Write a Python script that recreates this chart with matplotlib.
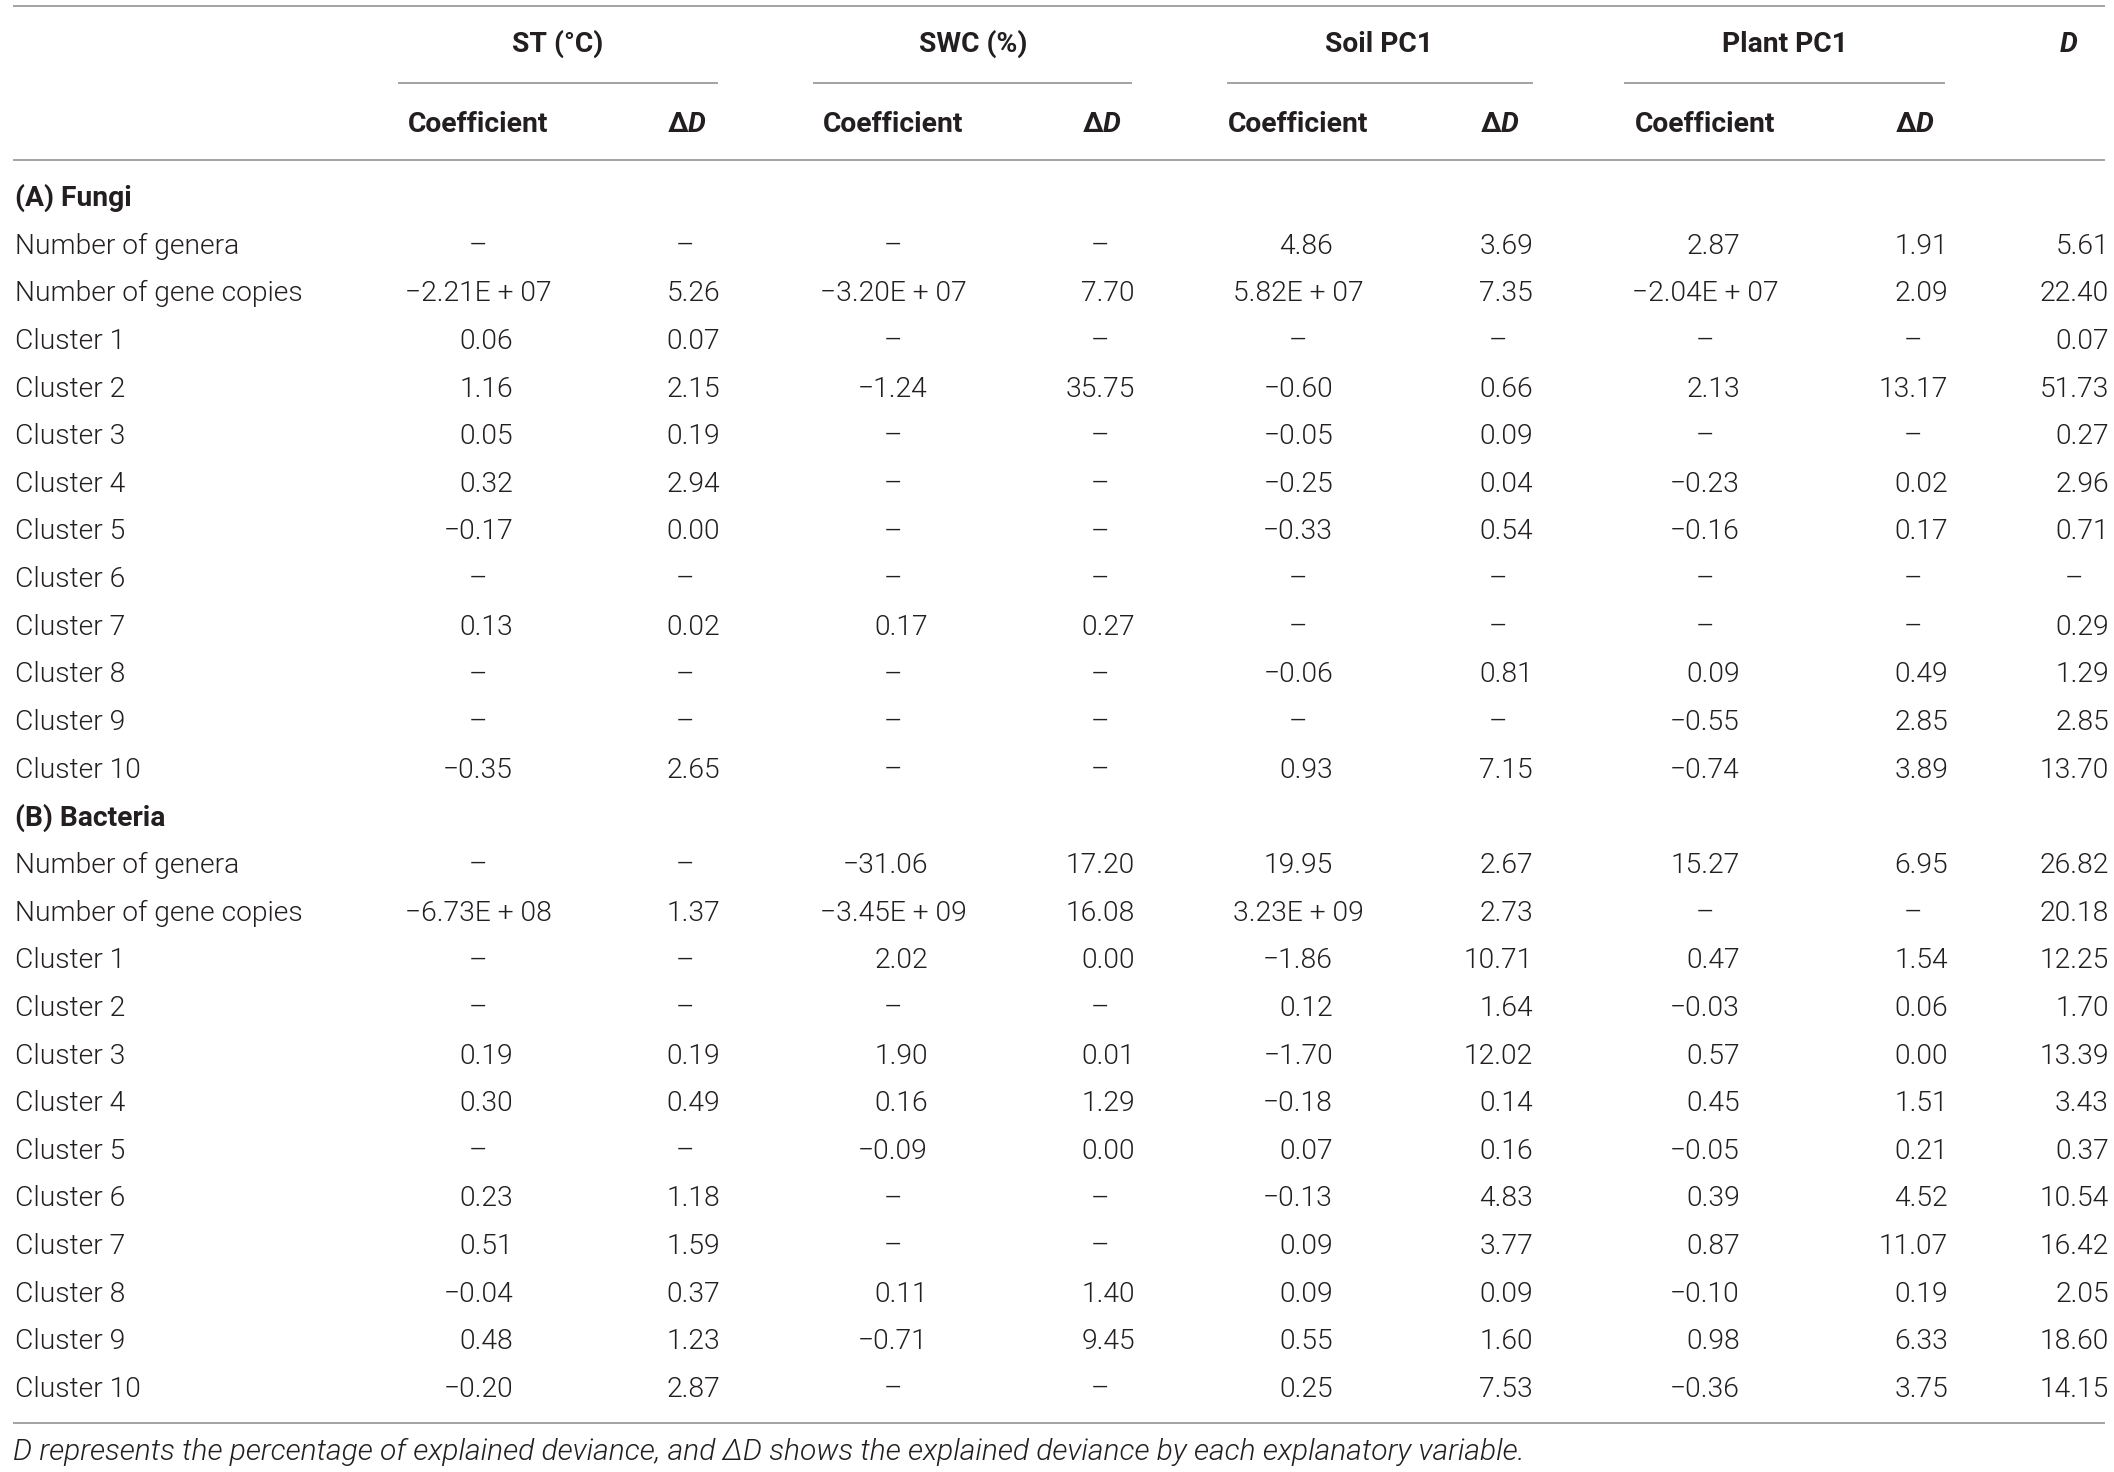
import matplotlib
matplotlib.use("Agg")
import matplotlib.pyplot as plt

# row labels (same for both groups)
row_labels = ["Number of genera", "Number of gene copies"] + ["Cluster %d" % i for i in range(1, 11)]

# (A) Fungi, one list per column, None = not selected
fungi_st_coef = [None, -2.21e7, 0.06, 1.16, 0.05, 0.32, -0.17, None, 0.13, None, None, -0.35]
fungi_st_dd = [None, 5.26, 0.07, 2.15, 0.19, 2.94, 0.00, None, 0.02, None, None, 2.65]
fungi_swc_coef = [None, -3.20e7, None, -1.24, None, None, None, None, 0.17, None, None, None]
fungi_swc_dd = [None, 7.70, None, 35.75, None, None, None, None, 0.27, None, None, None]
fungi_soil_coef = [4.86, 5.82e7, None, -0.60, -0.05, -0.25, -0.33, None, None, -0.06, None, 0.93]
fungi_soil_dd = [3.69, 7.35, None, 0.66, 0.09, 0.04, 0.54, None, None, 0.81, None, 7.15]
fungi_plant_coef = [2.87, -2.04e7, None, 2.13, None, -0.23, -0.16, None, None, 0.09, -0.55, -0.74]
fungi_plant_dd = [1.91, 2.09, None, 13.17, None, 0.02, 0.17, None, None, 0.49, 2.85, 3.89]
fungi_d = [5.61, 22.40, 0.07, 51.73, 0.27, 2.96, 0.71, None, 0.29, 1.29, 2.85, 13.70]

# (B) Bacteria
bact_st_coef = [None, -6.73e8, None, None, 0.19, 0.30, None, 0.23, 0.51, -0.04, 0.48, -0.20]
bact_st_dd = [None, 1.37, None, None, 0.19, 0.49, None, 1.18, 1.59, 0.37, 1.23, 2.87]
bact_swc_coef = [-31.06, -3.45e9, 2.02, None, 1.90, 0.16, -0.09, None, None, 0.11, -0.71, None]
bact_swc_dd = [17.20, 16.08, 0.00, None, 0.01, 1.29, 0.00, None, None, 1.40, 9.45, None]
bact_soil_coef = [19.95, 3.23e9, -1.86, 0.12, -1.70, -0.18, 0.07, -0.13, 0.09, 0.09, 0.55, 0.25]
bact_soil_dd = [2.67, 2.73, 10.71, 1.64, 12.02, 0.14, 0.16, 4.83, 3.77, 0.09, 1.60, 7.53]
bact_plant_coef = [15.27, None, 0.47, -0.03, 0.57, 0.45, -0.05, 0.39, 0.87, -0.10, 0.98, -0.36]
bact_plant_dd = [6.95, None, 1.54, 0.06, 0.00, 1.51, 0.21, 4.52, 11.07, 0.19, 6.33, 3.75]
bact_d = [26.82, 20.18, 12.25, 1.70, 13.39, 3.43, 0.37, 10.54, 16.42, 2.05, 18.60, 14.15]

groups = ["ST (°C)", "SWC (%)", "Soil PC1", "Plant PC1"]
group_titles = ["(A) Fungi", "(B) Bacteria"]
footnote = ("D represents the percentage of explained deviance, and \u0394D shows "
            "the explained deviance by each explanatory variable.")

fungi_cols = [fungi_st_coef, fungi_st_dd, fungi_swc_coef, fungi_swc_dd,
              fungi_soil_coef, fungi_soil_dd, fungi_plant_coef, fungi_plant_dd, fungi_d]
bact_cols = [bact_st_coef, bact_st_dd, bact_swc_coef, bact_swc_dd,
             bact_soil_coef, bact_soil_dd, bact_plant_coef, bact_plant_dd, bact_d]

W, H = 2114, 1472
col_x = [478, 685, 893, 1100, 1298, 1498, 1705, 1913, 2074]
group_x = [558, 973, 1379, 1785]
underline = [(398, 718), (813, 1132), (1227, 1533), (1624, 1945)]
txt = "#231f20"
rule = "#a3a3a3"
fs = 20.3
base = 9.0  # baseline offset from cap centre
body = dict(family="Roboto", fontweight=300, fontsize=fs, color=txt, va="baseline")
bold = dict(family="Roboto", fontweight="bold", fontsize=fs, color=txt, va="baseline")


def fmt(v):
    if v is None:
        return "\u2013", "dash"
    sign = "\u2212" if v < 0 else ""
    if abs(v) >= 1e6:
        m, e = ("%.2E" % abs(v)).split("E")
        return "%s%sE + %s" % (sign, m, e[1:]), "sci"
    return "%s%.2f" % (sign, abs(v)), "num"


fig = plt.figure(figsize=(W / 100, H / 100), dpi=100)
ax = fig.add_axes([0, 0, 1, 1])
ax.set_xlim(0, W)
ax.set_ylim(H, 0)
ax.axis("off")

# rules
for y in [6, 160, 1423]:
    ax.plot([13, 2105], [y, y], color=rule, lw=1.4, solid_capstyle="butt")
for x0, x1 in underline:
    ax.plot([x0, x1], [83, 83], color=rule, lw=1.4, solid_capstyle="butt")

# header
for gx, g in zip(group_x, groups):
    ax.text(gx, 43 + base, g, ha="center", **bold)
ax.text(2069, 43 + base, "D", ha="center", style="italic", **bold)
for k in range(4):
    ax.text(col_x[2 * k], 123 + base, "Coefficient", ha="center", **bold)
    cx = col_x[2 * k + 1]
    ax.text(cx + 3, 123 + base, "\u0394", ha="right", **bold)
    ax.text(cx + 3, 123 + base, "D", ha="left", style="italic", **bold)

# body
y0, step = 197, 47.64
row = 0
for title, cols in zip(group_titles, [fungi_cols, bact_cols]):
    y = y0 + step * row
    ax.text(15, y + base, title, ha="left", **bold)
    row += 1
    for i, lab in enumerate(row_labels):
        y = y0 + step * row
        ax.text(15, y + base, lab, ha="left", **body)
        for cx, col in zip(col_x, cols):
            s, kind = fmt(col[i])
            if kind == "num":
                ax.text(cx + 35, y + base, s, ha="right", **body)
            else:
                ax.text(cx, y + base, s, ha="center", **body)
        row += 1

foot = dict(body, fontsize=21.6)
ax.text(13, 1451 + base, footnote, ha="left", style="italic", **foot)

fig.savefig("out.png", dpi=100)
